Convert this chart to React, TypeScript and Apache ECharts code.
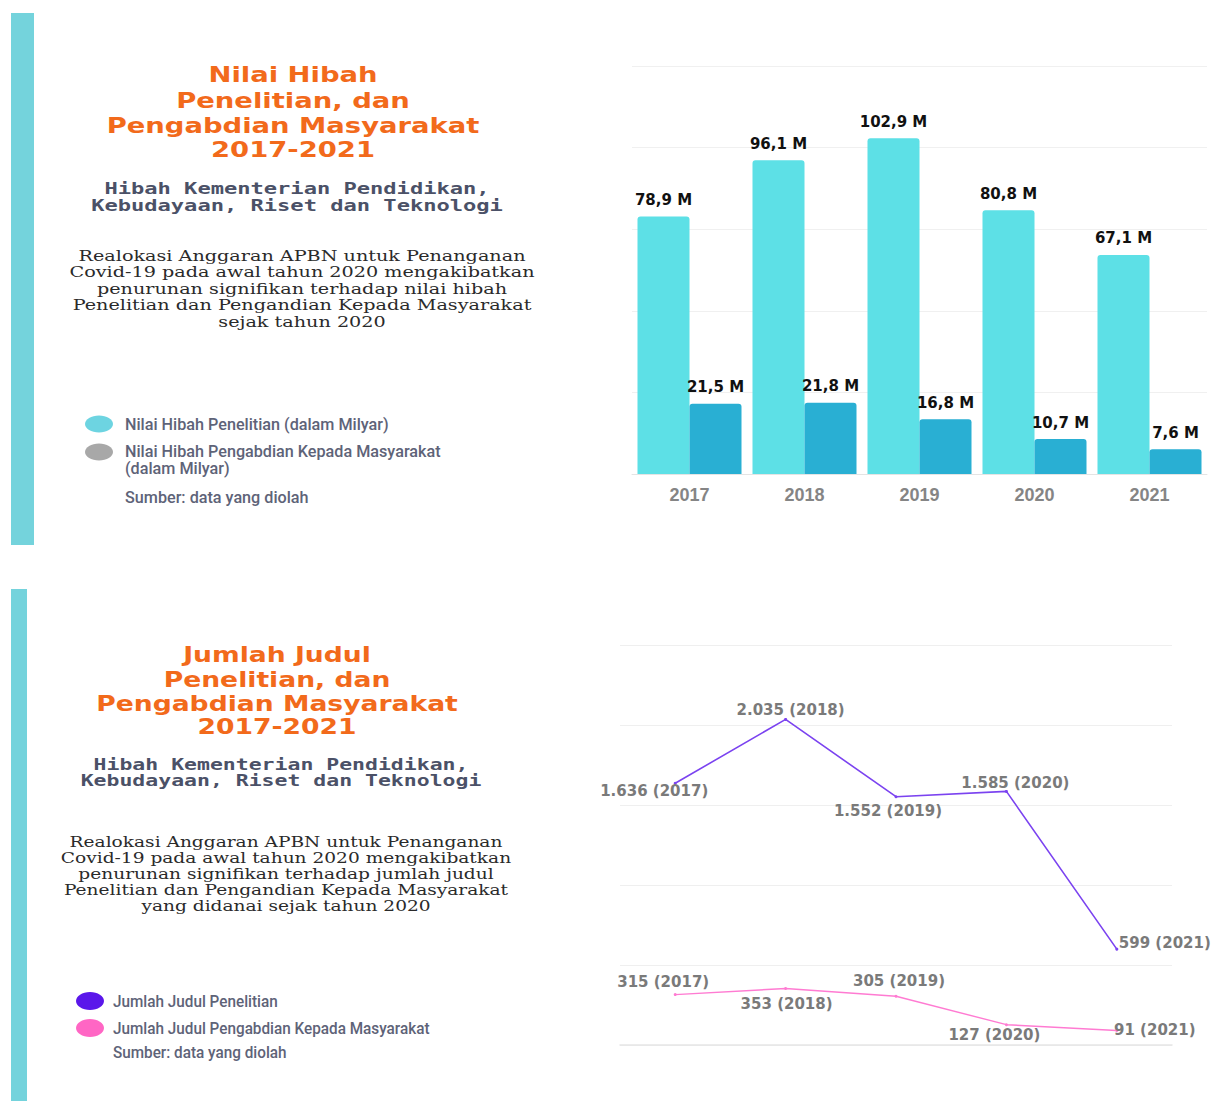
import React, { useEffect, useRef } from "react";
import * as echarts from "echarts";

// ---------- data ----------
const years = ["2017", "2018", "2019", "2020", "2021"];
const hibahPenelitian = [78.9, 96.1, 102.9, 80.8, 67.1];
const hibahPengabdian = [21.5, 21.8, 16.8, 10.7, 7.6];
const judulPenelitian = [1636, 2035, 1552, 1585, 599];
const judulPengabdian = [315, 353, 305, 127, 91];
const barAxisMax = 125;
const barAxisStep = 25;
const lineAxisMax = 2500;
const lineAxisStep = 500;

// ---------- texts ----------
const topTitle = ["Nilai Hibah", "Penelitian, dan", "Pengabdian Masyarakat", "2017-2021"];
const bottomTitle = ["Jumlah Judul", "Penelitian, dan", "Pengabdian Masyarakat", "2017-2021"];
const subtitle = ["Hibah Kementerian Pendidikan,", "Kebudayaan, Riset dan Teknologi"];
const topParagraph = [
  "Realokasi Anggaran APBN untuk Penanganan",
  "Covid-19 pada awal tahun 2020 mengakibatkan",
  "penurunan signifikan terhadap nilai hibah",
  "Penelitian dan Pengandian Kepada Masyarakat",
  "sejak tahun 2020",
];
const bottomParagraph = [
  "Realokasi Anggaran APBN untuk Penanganan",
  "Covid-19 pada awal tahun 2020 mengakibatkan",
  "penurunan signifikan terhadap jumlah judul",
  "Penelitian dan Pengandian Kepada Masyarakat",
  "yang didanai sejak tahun 2020",
];
const topLegend = [
  "Nilai Hibah Penelitian (dalam Milyar)",
  "Nilai Hibah Pengabdian Kepada Masyarakat",
  "(dalam Milyar)",
  "Sumber: data yang diolah",
];
const bottomLegend = [
  "Jumlah Judul Penelitian",
  "Jumlah Judul Pengabdian Kepada Masyarakat",
  "Sumber: data yang diolah",
];

// ---------- label offsets (layout) ----------
const purpleOffsets = [[-21, 8], [5, -9], [-8, 14], [9, -8], [48, -6]];
const pinkOffsets = [[-12, -13], [1, 15], [3, -15], [-12, 10], [38, 0]];

const ORANGE = "#F26A1B";
const SLATE = "#4B5167";
const LEGEND_GRAY = "#5E6378";

let measureCtx: CanvasRenderingContext2D | null = null;
function measure(text: string, weight: string, size: number, family: string) {
  if (!measureCtx) measureCtx = document.createElement("canvas").getContext("2d");
  measureCtx!.font = `${weight} ${size}px ${family}`;
  return measureCtx!.measureText(text).width;
}

function block(
  lines: string[],
  opts: {
    x: number;
    ys: number[];
    size: number;
    weight: string;
    family: string;
    fill: string;
    target: number;
    align: "center" | "left";
    widest: number;
  }
) {
  const w = measure(lines[opts.widest], opts.weight, opts.size, opts.family);
  const s = opts.target / w;
  return lines.map((t, i) => ({
    type: "text",
    x: opts.x,
    y: opts.ys[i],
    scaleX: s,
    silent: true,
    style: {
      text: t,
      fontSize: opts.size,
      fontWeight: opts.weight,
      fontFamily: opts.family,
      fill: opts.fill,
      align: opts.align,
      verticalAlign: "middle",
    },
  }));
}

function fmtThousands(v: number) {
  return String(v).replace(/\B(?=(\d{3})+(?!\d))/g, ".");
}
function fmtM(v: number) {
  return v.toFixed(1).replace(".", ",") + " M";
}

export default function App() {
  const ref = useRef<HTMLDivElement>(null);
  useEffect(() => {
    if (!ref.current) return;
    const chart = echarts.init(ref.current, undefined, { renderer: "svg" });

    const titleFam = '"DejaVu Sans"';
    const monoFam = '"DejaVu Sans Mono"';
    const serifFam = '"DejaVu Serif"';
    const legFam = "Roboto";

    const graphics: any[] = [
      { type: "rect", silent: true, shape: { x: 11, y: 13, width: 23, height: 532 }, style: { fill: "#74D3DC" } },
      { type: "rect", silent: true, shape: { x: 11, y: 589, width: 16, height: 512 }, style: { fill: "#74D3DC" } },
      ...block(topTitle, { x: 293, ys: [75, 101, 126, 150], size: 21, weight: "bold", family: titleFam, fill: ORANGE, target: 373, align: "center", widest: 2 }),
      ...block(subtitle, { x: 297, ys: [188, 205], size: 15, weight: "bold", family: monoFam, fill: SLATE, target: 412, align: "center", widest: 1 }),
      ...block(topParagraph, { x: 302, ys: [256, 272, 289, 305, 322], size: 15, weight: "normal", family: serifFam, fill: "#2A2A2A", target: 465, align: "center", widest: 1 }),
      { type: "ellipse", silent: true, shape: { cx: 99, cy: 424, rx: 14, ry: 8.5 }, style: { fill: "#6DD4E1" } },
      { type: "ellipse", silent: true, shape: { cx: 99, cy: 452, rx: 14, ry: 8.5 }, style: { fill: "#A8A8A8" } },
      ...block(topLegend, { x: 125, ys: [425, 452, 469, 498], size: 16, weight: "500", family: legFam, fill: LEGEND_GRAY, target: 316, align: "left", widest: 1 }),

      ...block(bottomTitle, { x: 277, ys: [655, 680, 704, 727], size: 21, weight: "bold", family: titleFam, fill: ORANGE, target: 362, align: "center", widest: 2 }),
      ...block(subtitle, { x: 281, ys: [765, 781], size: 15, weight: "bold", family: monoFam, fill: SLATE, target: 401, align: "center", widest: 1 }),
      ...block(bottomParagraph, { x: 286, ys: [842, 858, 874, 890, 906], size: 15, weight: "normal", family: serifFam, fill: "#2A2A2A", target: 451, align: "center", widest: 1 }),
      { type: "ellipse", silent: true, shape: { cx: 90, cy: 1001, rx: 14, ry: 9 }, style: { fill: "#5A17EA" } },
      { type: "ellipse", silent: true, shape: { cx: 90, cy: 1028, rx: 14, ry: 9 }, style: { fill: "#FF66C4" } },
      ...block(bottomLegend, { x: 113, ys: [1001, 1028, 1052], size: 16, weight: "500", family: legFam, fill: LEGEND_GRAY, target: 317, align: "left", widest: 1 }),
    ];

    const lineLabel = {
      show: true,
      position: "inside",
      fontFamily: "DejaVu Sans",
      fontWeight: "bold",
      fontSize: 15,
      color: "#7A7A7A",
    };

    const barLabel = {
      show: true,
      position: "top",
      distance: 9,
      formatter: (p: any) => fmtM(p.value),
      fontFamily: '"DejaVu Sans"',
      fontWeight: "bold",
      fontSize: 15,
      color: "#111111",
    };

    chart.setOption({
      animation: false,
      backgroundColor: "#ffffff",
      graphic: graphics,
      grid: [
        { left: 632, right: 4, top: 66, bottom: 627, containLabel: false },
        { left: 620, right: 39, top: 645, bottom: 56, containLabel: false },
      ],
      xAxis: [
        {
          gridIndex: 0,
          type: "category",
          data: years,
          axisTick: { show: false },
          axisLine: { show: true, lineStyle: { color: "#E4E4E4", width: 1 } },
          axisLabel: {
            color: "#858585",
            fontFamily: '"Liberation Sans"',
            fontWeight: "bold",
            fontSize: 18,
            margin: 12,
          },
        },
        {
          gridIndex: 1,
          type: "category",
          data: years,
          boundaryGap: true,
          axisTick: { show: false },
          axisLabel: { show: false },
          axisLine: { show: true, lineStyle: { color: "#E6E6E6", width: 1.5 } },
        },
      ],
      yAxis: [
        {
          gridIndex: 0,
          type: "value",
          min: 0,
          max: barAxisMax,
          interval: barAxisStep,
          axisLabel: { show: false },
          axisLine: { show: false },
          axisTick: { show: false },
          splitLine: { lineStyle: { color: "#F0F0F0", width: 1 } },
        },
        {
          gridIndex: 1,
          type: "value",
          min: 0,
          max: lineAxisMax,
          interval: lineAxisStep,
          axisLabel: { show: false },
          axisLine: { show: false },
          axisTick: { show: false },
          splitLine: { lineStyle: { color: "#EFEFEF", width: 1.2 } },
        },
      ],
      series: [
        {
          name: topLegend[0],
          type: "bar",
          xAxisIndex: 0,
          yAxisIndex: 0,
          data: hibahPenelitian,
          barWidth: 52,
          barGap: "0%",
          itemStyle: { color: "#5DE0E6", borderRadius: [3, 3, 0, 0] },
          label: barLabel,
        },
        {
          name: "Nilai Hibah Pengabdian Kepada Masyarakat (dalam Milyar)",
          type: "bar",
          xAxisIndex: 0,
          yAxisIndex: 0,
          data: hibahPengabdian,
          barWidth: 52,
          barGap: "0%",
          itemStyle: { color: "#29AFD3", borderRadius: [3, 3, 0, 0] },
          label: barLabel,
        },
        {
          name: bottomLegend[0],
          type: "line",
          xAxisIndex: 1,
          yAxisIndex: 1,
          data: judulPenelitian.map((v, i) => ({ value: v, label: { offset: purpleOffsets[i] } })),
          symbol: "circle",
          symbolSize: 3,
          lineStyle: { color: "#7B43F0", width: 1.6 },
          itemStyle: { color: "#7B43F0" },
          label: { ...lineLabel, formatter: (p: any) => `${fmtThousands(p.value)} (${years[p.dataIndex]})` },
        },
        {
          name: bottomLegend[1],
          type: "line",
          xAxisIndex: 1,
          yAxisIndex: 1,
          data: judulPengabdian.map((v, i) => ({ value: v, label: { offset: pinkOffsets[i] } })),
          symbol: "circle",
          symbolSize: 3,
          lineStyle: { color: "#FF7BD2", width: 1.4 },
          itemStyle: { color: "#FF7BD2" },
          label: { ...lineLabel, formatter: (p: any) => `${fmtThousands(p.value)} (${years[p.dataIndex]})` },
        },
      ],
    });

    return () => chart.dispose();
  }, []);

  return (
    <div
      ref={ref}
      style={{ position: "absolute", left: 0, top: 0, width: 1211, height: 1101, background: "#fff" }}
    />
  );
}
